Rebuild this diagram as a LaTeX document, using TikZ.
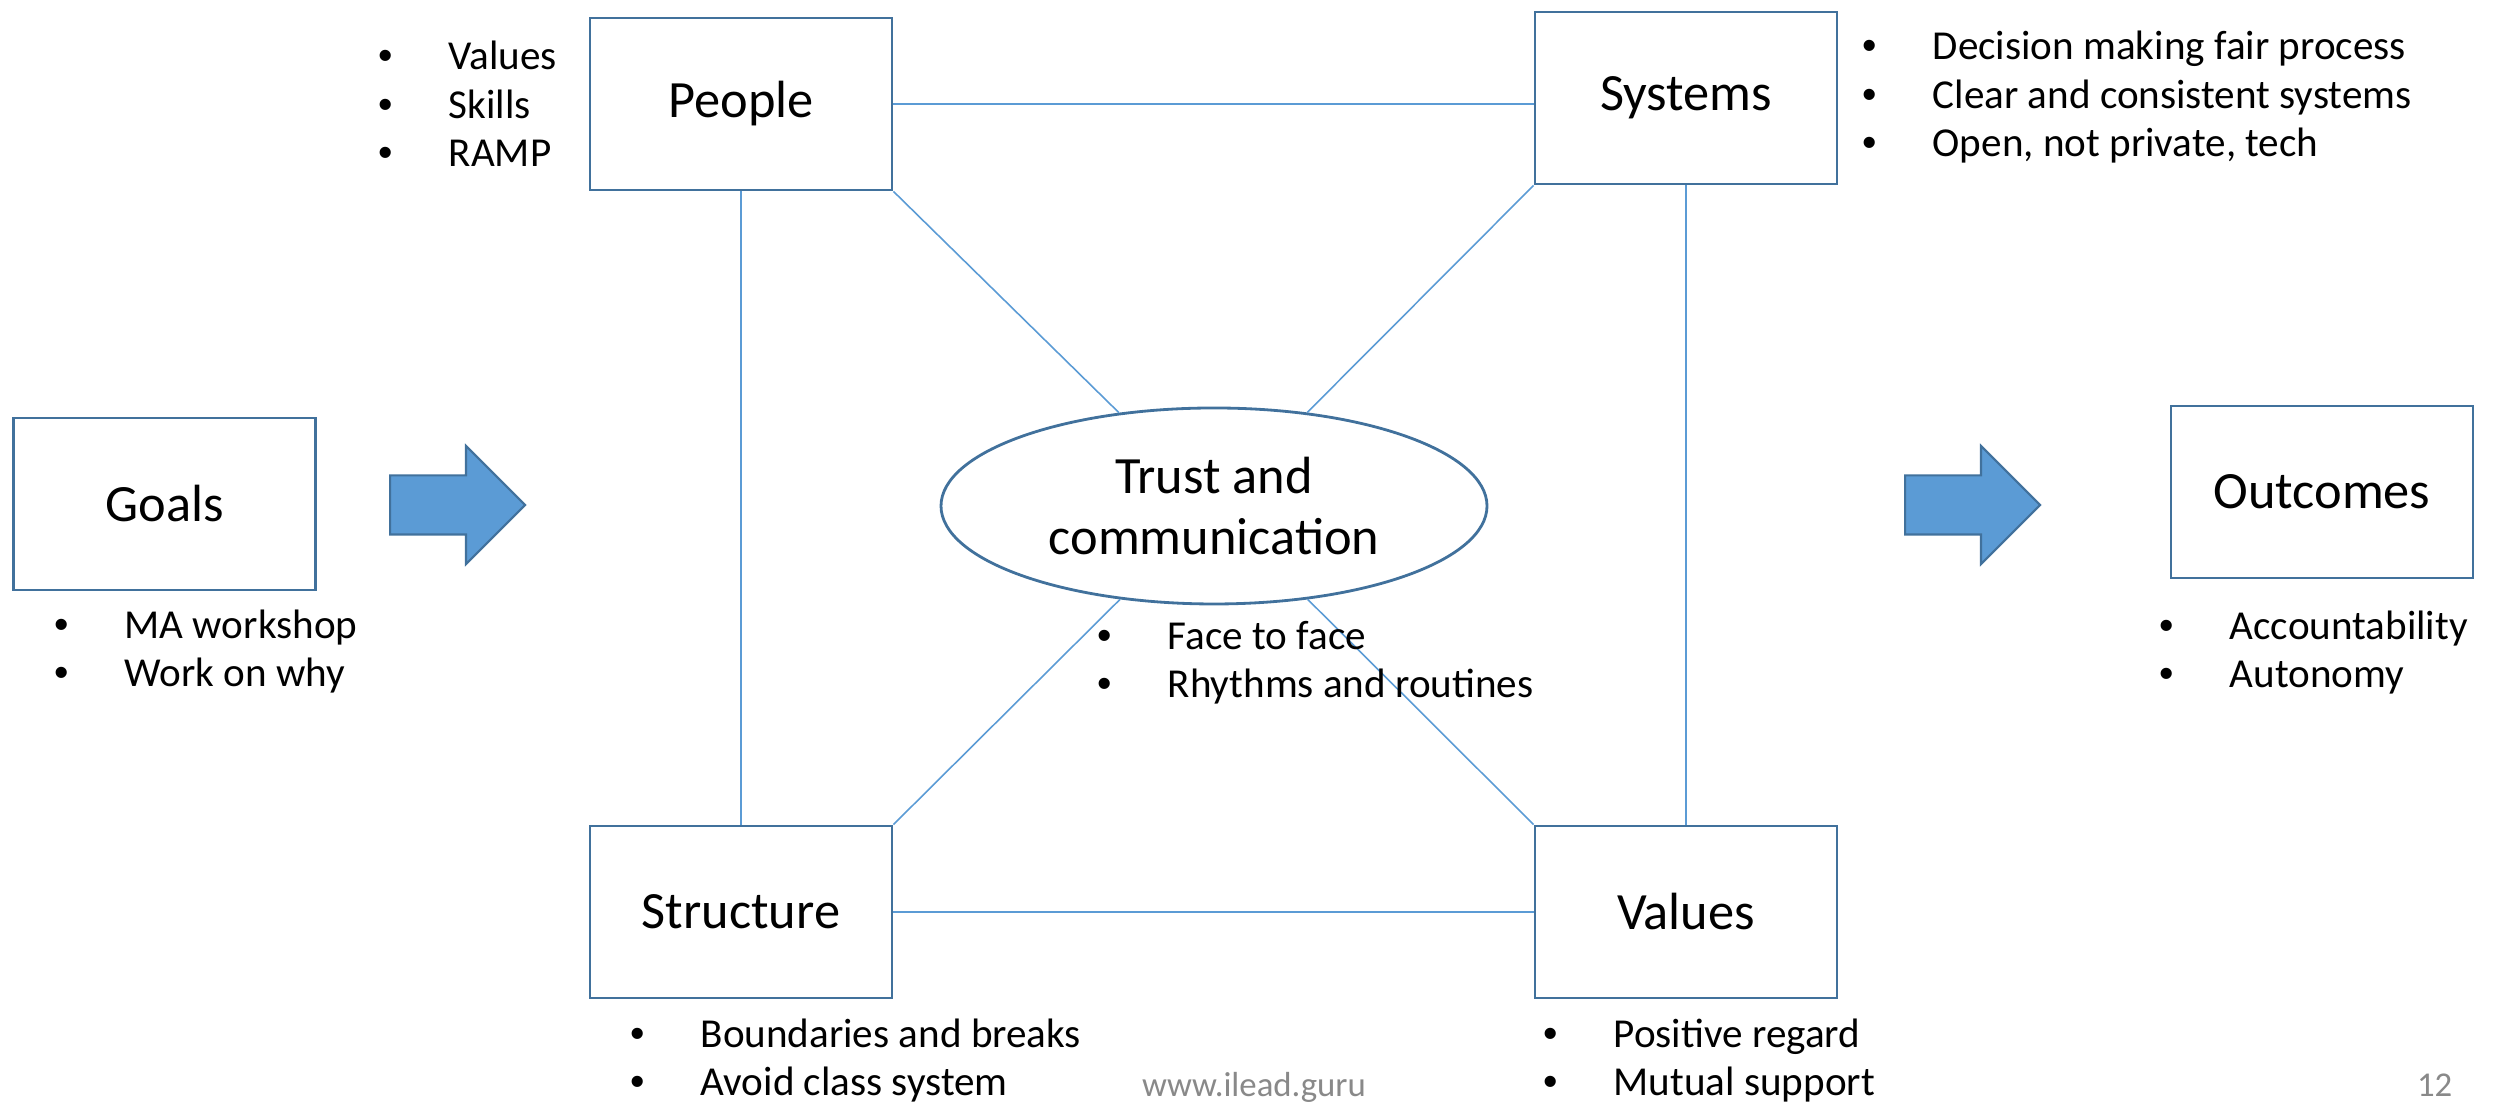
\documentclass[tikz,border=0pt]{standalone}
\usepackage{fontspec}
\setmainfont{Carlito}
\newfontfamily\bulletfont{Liberation Sans}
\usepackage{tikz}
\usetikzlibrary{shapes.geometric, shapes.arrows, positioning}

\definecolor{boxblue}{RGB}{65,113,156}
\definecolor{lineblue}{RGB}{91,155,213}
\definecolor{footgray}{RGB}{137,137,137}

% bullet item: dot, then the text at a fixed indent
\newcommand{\itm}[1]{\makebox[0.7cm][l]{\bulletfont\textbullet}#1}

\begin{document}
\begin{tikzpicture}[
  box/.style={draw=boxblue, line width=0.8pt, rectangle, minimum width=3.02cm, minimum height=1.72cm, fill=white, font=\fontsize{14.9}{17.6}\selectfont},
  link/.style={draw=lineblue, line width=0.45pt},
  bigarrow/.style={single arrow, draw=boxblue, fill=lineblue, line width=0.6pt, minimum width=1.16cm, minimum height=1.35cm, inner xsep=0pt, inner ysep=0.285cm, single arrow head extend=0.295cm, anchor=tail},
  % notes are placed by the baseline of their last line
  bullets/.style={anchor=base west, align=left, inner sep=0pt, font=\fontsize{11.7}{13.9}\selectfont}
]
\useasboundingbox (0,0) rectangle (24.98,11.04);
%
% Top row
\node[box] (people) at (7.41,10.00) {People};
\node[box] (systems) at (16.86,10.06) {Systems};
%
% Middle row: goals, arrow, centre ellipse, arrow, outcomes
\node[box] (goals) at (1.645,6.00) {Goals};
\node[bigarrow] (arrowin) at (3.89,5.99) {};
\node[draw=boxblue, line width=0.8pt, ellipse, minimum width=5.46cm, minimum height=1.96cm, inner sep=0pt, align=center, font=\fontsize{14.9}{17.6}\selectfont] (trust) at (12.14,5.98) {Trust and\\communication};
\node[bigarrow] (arrowout) at (19.04,5.99) {};
\node[box] (outcomes) at (23.22,6.12) {Outcomes};
%
% Bottom row
\node[box] (structure) at (7.41,1.92) {Structure};
\node[box] (values) at (16.86,1.92) {Values};
%
% Square of links
\draw[link] (people.east) -- (people.east -| systems.west);
\draw[link] (people) -- (structure);
\draw[link] (systems) -- (values);
\draw[link] (structure) -- (values);
% Diagonals into the ellipse
\draw[link] (people.south east) -- (trust);
\draw[link] (systems.south west) -- (trust);
\draw[link] (structure.north east) -- (trust);
\draw[link] (values.north west) -- (trust);
%
% Bullet notes
\node[bullets] (goalsnotes) at (0.54,4.17) {\itm{MA workshop}\\\itm{Work on why}};
\node[bullets] (peoplenotes) at (3.78,9.37) {\itm{Values}\\\itm{Skills}\\\itm{RAMP}};
\node[bullets] (systemsnotes) at (18.62,9.47) {\itm{Decision making fair process}\\\itm{Clear and consistent systems}\\\itm{Open, not private, tech}};
\node[bullets] (trustnotes) at (10.97,4.06) {\itm{Face to face}\\\itm{Rhythms and routines}};
\node[bullets] (outcomesnotes) at (21.59,4.16) {\itm{Accountability}\\\itm{Autonomy}};
\node[bullets] (structurenotes) at (6.30,0.08) {\itm{Boundaries and breaks}\\\itm{Avoid class system}};
\node[bullets] (valuesnotes) at (15.43,0.08) {\itm{Positive regard}\\\itm{Mutual support}};
%
% Footer
\node[anchor=base, inner sep=0pt, text=footgray, font=\fontsize{9.9}{12}\selectfont] (site) at (12.54,0.07) {www.ilead.guru};
\node[anchor=base east, inner sep=0pt, text=footgray, font=\fontsize{9.9}{12}\selectfont] (pagenum) at (24.53,0.07) {12};
\end{tikzpicture}
\end{document}
